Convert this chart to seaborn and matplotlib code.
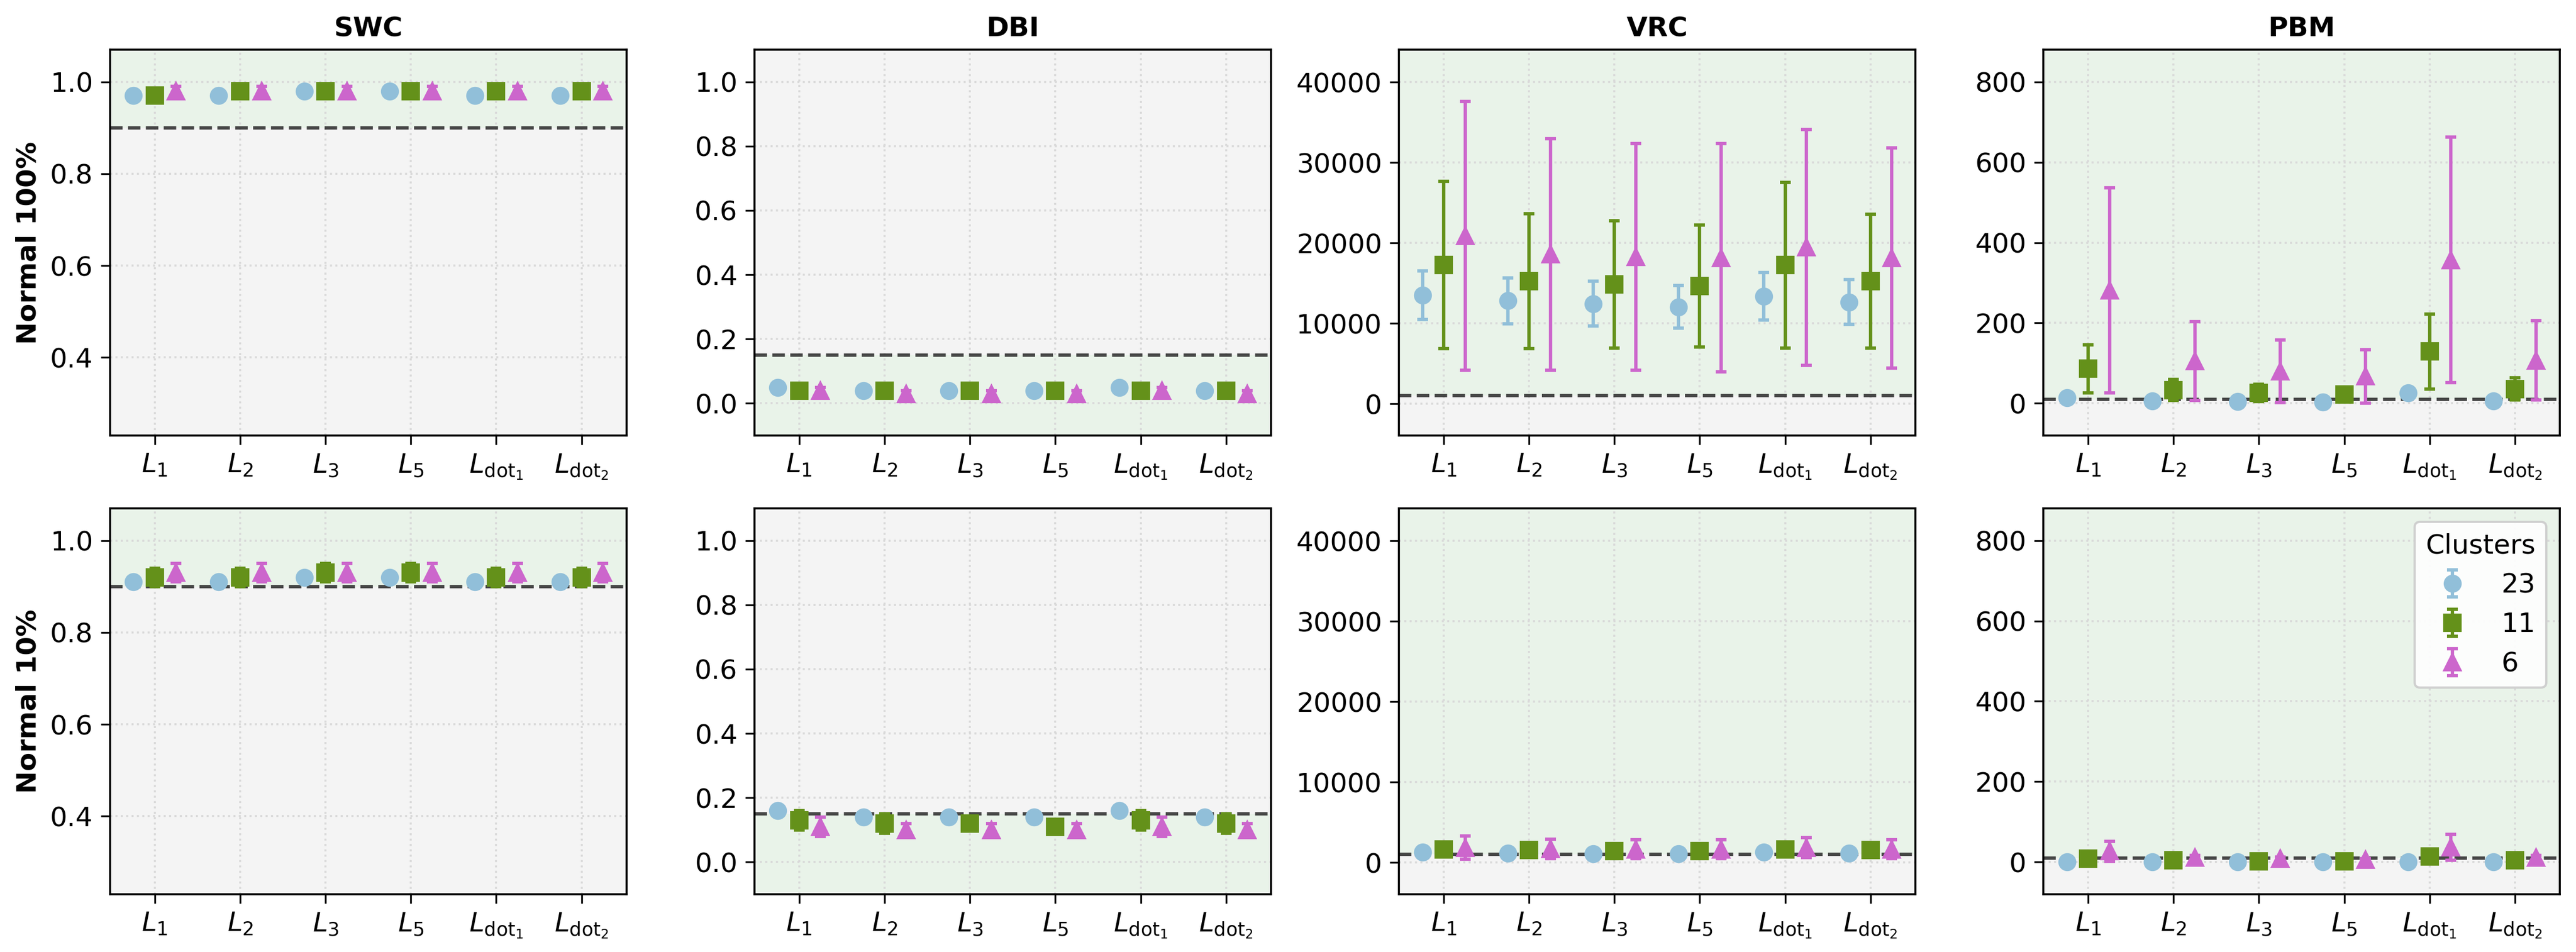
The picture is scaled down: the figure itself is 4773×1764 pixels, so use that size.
import numpy as np
import pandas as pd
import seaborn as sns
import matplotlib.pyplot as plt

losses = [r'$L_1$', r'$L_2$', r'$L_3$', r'$L_5$', r'$L_{\mathrm{dot}_1}$', r'$L_{\mathrm{dot}_2}$']
clusters = ['23', '11', '6']
metrics = ['SWC', 'DBI', 'VRC', 'PBM']
conditions = ['Normal 100%', 'Normal 10%']
thresholds = [0.9, 0.15, 1000, 10]
higher_better = [True, False, True, True]
ylims = [(0.23, 1.07), (-0.1, 1.1), (-3950, 44050), (-80, 880)]

colors = ['#91bfd9', '#64911a', '#cc66cc']
markers = ['o', 's', '^']
offsets = [-0.25, 0.0, 0.25]

# one row per cluster count (23, 11, 6), one column per loss
swc_100_mean = [[0.97, 0.97, 0.98, 0.98, 0.97, 0.97],
                [0.97, 0.98, 0.98, 0.98, 0.98, 0.98],
                [0.98, 0.98, 0.98, 0.98, 0.98, 0.98]]
swc_100_std = [[0.005, 0.005, 0.005, 0.005, 0.005, 0.005],
               [0.005, 0.005, 0.005, 0.005, 0.005, 0.005],
               [0.01, 0.01, 0.01, 0.01, 0.01, 0.01]]
swc_10_mean = [[0.91, 0.91, 0.92, 0.92, 0.91, 0.91],
               [0.92, 0.92, 0.93, 0.93, 0.92, 0.92],
               [0.93, 0.93, 0.93, 0.93, 0.93, 0.93]]
swc_10_std = [[0.005, 0.005, 0.005, 0.005, 0.005, 0.005],
              [0.02, 0.02, 0.02, 0.02, 0.02, 0.02],
              [0.02, 0.02, 0.02, 0.02, 0.02, 0.02]]

dbi_100_mean = [[0.05, 0.04, 0.04, 0.04, 0.05, 0.04],
                [0.04, 0.04, 0.04, 0.04, 0.04, 0.04],
                [0.04, 0.03, 0.03, 0.03, 0.04, 0.03]]
dbi_100_std = [[0.005, 0.005, 0.005, 0.005, 0.005, 0.005],
               [0.005, 0.005, 0.005, 0.005, 0.005, 0.005],
               [0.01, 0.01, 0.01, 0.01, 0.01, 0.01]]
dbi_10_mean = [[0.16, 0.14, 0.14, 0.14, 0.16, 0.14],
               [0.13, 0.12, 0.12, 0.11, 0.13, 0.12],
               [0.11, 0.10, 0.10, 0.10, 0.11, 0.10]]
dbi_10_std = [[0.015, 0.015, 0.015, 0.015, 0.015, 0.015],
              [0.03, 0.03, 0.02, 0.02, 0.03, 0.03],
              [0.03, 0.02, 0.02, 0.02, 0.03, 0.02]]

vrc_100_mean = [[13500, 12800, 12450, 12050, 13350, 12650],
                [17250, 15250, 14850, 14650, 17250, 15250],
                [20900, 18600, 18300, 18150, 19450, 18150]]
vrc_100_std = [[3000, 2850, 2800, 2650, 2950, 2800],
               [10400, 8400, 7900, 7600, 10300, 8300],
               [16700, 14400, 14100, 14200, 14700, 13700]]
vrc_10_mean = [[1250, 1150, 1050, 1050, 1250, 1150],
               [1650, 1550, 1400, 1400, 1650, 1550],
               [1850, 1700, 1650, 1650, 1850, 1650]]
vrc_10_std = [[200, 200, 200, 200, 200, 200],
              [800, 600, 500, 500, 800, 600],
              [1450, 1200, 1200, 1200, 1250, 1200]]

pbm_100_mean = [[14, 6, 5, 3, 26, 6],
                [86, 33, 26, 22, 129, 36],
                [281, 105, 80, 67, 357, 107]]
pbm_100_std = [[3, 3, 3, 3, 3, 3],
               [60, 26, 21, 5, 93, 27],
               [255, 98, 78, 67, 305, 99]]
pbm_10_mean = [[1, 1, 1, 0, 1, 1],
               [8, 4, 2, 2, 14, 4],
               [27, 11, 8, 6, 37, 11]]
pbm_10_std = [[1, 1, 1, 1, 1, 1],
              [3, 3, 3, 3, 3, 3],
              [25, 5, 5, 3, 32, 6]]

means = {('SWC', 0): swc_100_mean, ('SWC', 1): swc_10_mean,
         ('DBI', 0): dbi_100_mean, ('DBI', 1): dbi_10_mean,
         ('VRC', 0): vrc_100_mean, ('VRC', 1): vrc_10_mean,
         ('PBM', 0): pbm_100_mean, ('PBM', 1): pbm_10_mean}
stds = {('SWC', 0): swc_100_std, ('SWC', 1): swc_10_std,
        ('DBI', 0): dbi_100_std, ('DBI', 1): dbi_10_std,
        ('VRC', 0): vrc_100_std, ('VRC', 1): vrc_10_std,
        ('PBM', 0): pbm_100_std, ('PBM', 1): pbm_10_std}

sns.set_style('ticks')
plt.rcParams['font.family'] = ['DejaVu Sans']
plt.rcParams['text.color'] = 'black'
plt.rcParams['axes.labelcolor'] = 'black'
plt.rcParams['axes.edgecolor'] = 'black'
plt.rcParams['xtick.color'] = 'black'
plt.rcParams['ytick.color'] = 'black'
plt.rcParams['xtick.labelsize'] = 12
plt.rcParams['ytick.labelsize'] = 12
plt.rcParams['xtick.major.size'] = 4
plt.rcParams['ytick.major.size'] = 4
plt.rcParams['axes.linewidth'] = 0.9
plt.rcParams['mathtext.fontset'] = 'dejavusans'

palette = sns.color_palette(colors)

fig, axes = plt.subplots(2, 4, figsize=(4773 / 300, 1764 / 300), dpi=300)
fig.subplots_adjust(left=0.0427, right=0.9937, top=0.9478, bottom=0.0607,
                    wspace=0.248, hspace=0.189)

x = np.arange(len(losses))
for r in range(2):
    for c, metric in enumerate(metrics):
        ax = axes[r, c]
        lo, hi = ylims[c]
        thr = thresholds[c]
        ax.set_facecolor('#f4f4f4')
        if higher_better[c]:
            ax.axhspan(thr, hi, color='#e9f3e9', zorder=0, lw=0)
        else:
            ax.axhspan(lo, thr, color='#e9f3e9', zorder=0, lw=0)
        ax.grid(True, linestyle=':', color='#d9d9d9', linewidth=0.9, zorder=0.5)
        ax.set_axisbelow(True)
        ax.axhline(thr, color='#333333', linestyle='--', linewidth=1.5, alpha=0.9, zorder=2)

        for k, cl in enumerate(clusters):
            ax.errorbar(x + offsets[k], means[(metric, r)][k], yerr=stds[(metric, r)][k],
                        fmt=markers[k], color=palette[k], markersize=7,
                        elinewidth=1.5, capsize=2.5, capthick=1.5, label=cl, zorder=3)

        ax.set_ylim(lo, hi)
        ax.set_xticks(x)
        ax.set_xticklabels(losses)
        if metric == 'SWC':
            ax.set_yticks([0.4, 0.6, 0.8, 1.0])
        elif metric == 'DBI':
            ax.set_yticks([0.0, 0.2, 0.4, 0.6, 0.8, 1.0])
        if r == 0:
            ax.set_title(metric, fontsize=12, fontweight='bold')
        if c == 0:
            ax.set_ylabel(conditions[r], fontsize=12, fontweight='bold')

leg = axes[1, 3].legend(title='Clusters', loc='upper right', fontsize=12, title_fontsize=12,
                        frameon=True, fancybox=True, framealpha=0.9, edgecolor='#cccccc')

plt.savefig('out.png', dpi=300)
print('saved')
